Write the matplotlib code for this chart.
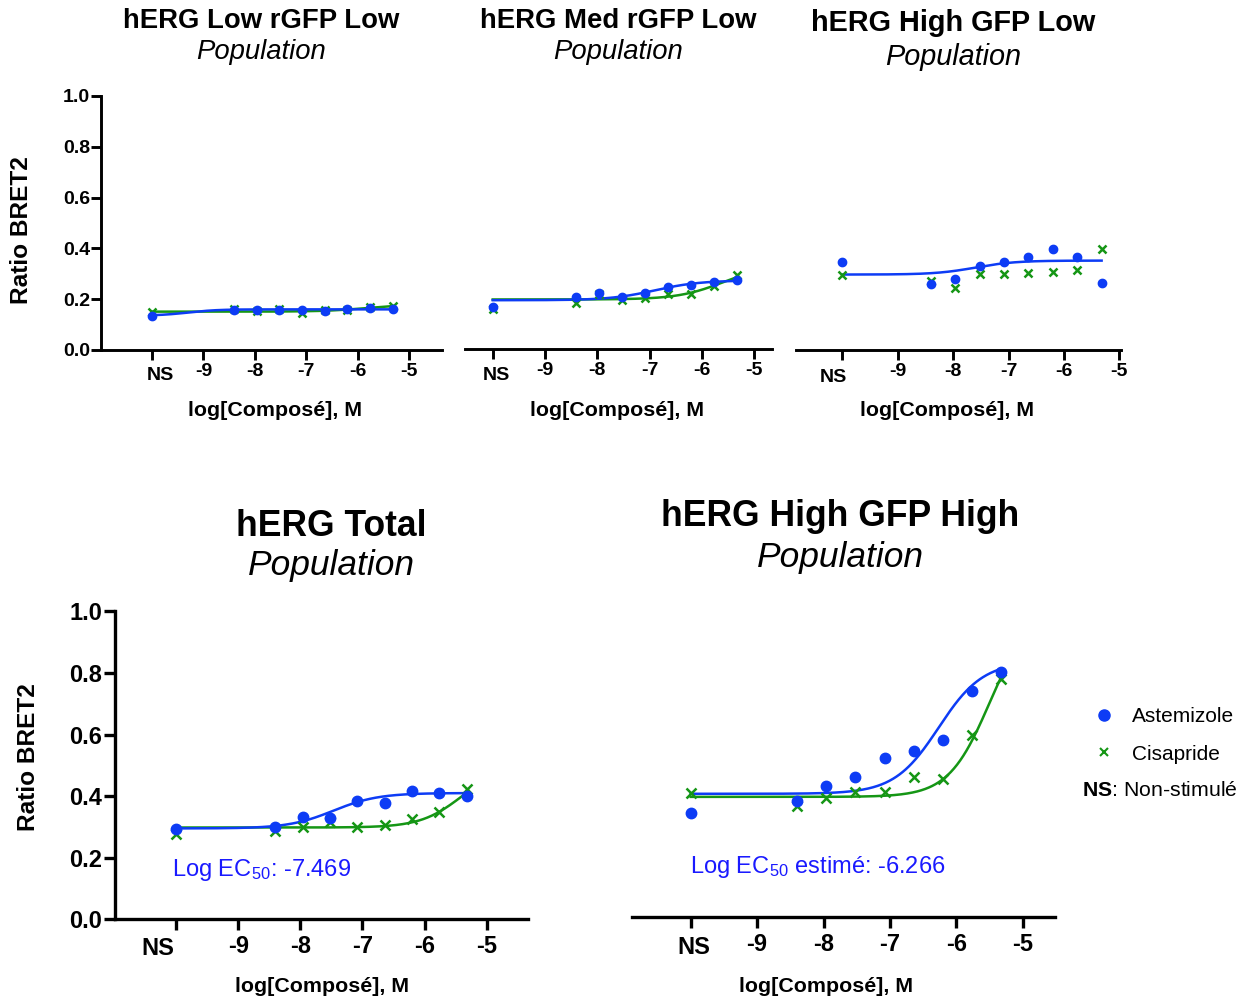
import numpy as np
import matplotlib
matplotlib.use('Agg')
import matplotlib.pyplot as plt
from matplotlib.lines import Line2D
from matplotlib.transforms import blended_transform_factory

plt.rcParams['font.family'] = ['Liberation Sans', 'DejaVu Sans']
plt.rcParams['mathtext.fontset'] = 'custom'
plt.rcParams['mathtext.rm'] = 'Liberation Sans'
plt.rcParams['mathtext.it'] = 'Liberation Sans:italic'
plt.rcParams['mathtext.bf'] = 'Liberation Sans:bold'
plt.rcParams['axes.unicode_minus'] = False

# ---------------- data ----------------
NS_POS = -10.0                      # position of the non-stimulated point
conc = [-8.4, -7.96, -7.52, -7.08, -6.64, -6.2, -5.76, -5.32]   # log[M]
xtick_vals = [-10, -9, -8, -7, -6, -5]
xtick_labels = ['', '-9', '-8', '-7', '-6', '-5']
ytick_vals = [0.0, 0.2, 0.4, 0.6, 0.8, 1.0]
ytick_labels = ['0.0', '0.2', '0.4', '0.6', '0.8', '1.0']

# first value = NS, then the 8 concentrations
low_low_ast = [0.135, 0.157, 0.157, 0.157, 0.157, 0.155, 0.160, 0.167, 0.160]
low_low_cis = [0.148, 0.160, 0.155, 0.162, 0.146, 0.157, 0.157, 0.170, 0.172]
med_low_ast = [0.165, 0.203, 0.222, 0.204, 0.222, 0.246, 0.252, 0.264, 0.270]
med_low_cis = [0.157, 0.183, 0.218, 0.194, 0.200, 0.216, 0.216, 0.249, 0.290]
high_low_ast = [0.345, 0.260, 0.281, 0.331, 0.348, 0.367, 0.398, 0.367, 0.265]
high_low_cis = [0.295, 0.273, 0.243, 0.298, 0.298, 0.302, 0.306, 0.315, 0.396]
total_ast = [0.293, 0.301, 0.333, 0.328, 0.385, 0.377, 0.417, 0.409, 0.400]
total_cis = [0.277, 0.288, 0.299, 0.315, 0.301, 0.306, 0.325, 0.349, 0.422]
hh_ast = [0.337, 0.378, 0.425, 0.456, 0.515, 0.540, 0.575, 0.735, 0.794]
hh_cis = [0.402, 0.360, 0.385, 0.407, 0.407, 0.456, 0.447, 0.591, 0.772]

# fitted dose-response parameters: (bottom, top, logEC50, hill)
fit_low_low_ast = (0.135, 0.160, -9.3, 1.5)
fit_low_low_cis = (0.151, 0.180, -5.8, 1.0)
fit_med_low_ast = (0.192, 0.270, -6.9, 1.0)
fit_med_low_cis = (0.195, 0.330, -5.6, 1.0)
fit_high_low_ast = (0.297, 0.352, -7.6, 1.2)
fit_total_ast = (0.295, 0.410, -7.469, 1.2)
fit_total_cis = (0.298, 0.500, -5.4, 1.3)
fit_hh_ast = (0.400, 0.830, -6.266, 1.3)
fit_hh_cis = (0.390, 1.000, -5.5, 1.4)

titles = ['hERG Low rGFP Low', 'hERG Med rGFP Low', 'hERG High GFP Low',
          'hERG Total', 'hERG High GFP High']
subtitle = 'Population'
xlabel = 'log[Composé], M'
ylabel = 'Ratio BRET2'
series_names = ['Astemizole', 'Cisapride']

BLUE = '#0d3cf5'
GREEN = '#159615'
TEXT_BLUE = '#1a1aff'

W, H = 1246, 999
fig = plt.figure(figsize=(W / 100, H / 100), dpi=100)


def logistic(x, p):
    bottom, top, logec, hill = p
    return bottom + (top - bottom) / (1.0 + 10 ** ((logec - x) * hill))


def rect(x0, x1, y0, y1):
    return [x0 / W, 1 - y0 / H, (x1 - x0) / W, (y0 - y1) / H]


def panel(r, xlim, ast, cis, fit_a, fit_c, big, show_y, ns_dx, ns_dy, lab_pad):
    ax = fig.add_axes(r)
    ax.set_xlim(*xlim)
    ax.set_ylim(0, 1.0)
    lw_ax = 2.4 if big else 2.1
    tfs = 17 if big else 14
    ms = 7.5 if big else 6.0
    for s in ['top', 'right']:
        ax.spines[s].set_visible(False)
    ax.spines['bottom'].set_linewidth(lw_ax)
    ax.spines['left'].set_linewidth(lw_ax)
    ax.patch.set_alpha(0)
    xs = [NS_POS] + conc
    xc = np.linspace(NS_POS, conc[-1], 400)
    if fit_c is not None:
        ax.plot(xc, logistic(xc, fit_c), color=GREEN, lw=1.8, zorder=2)
    if fit_a is not None:
        ax.plot(xc, logistic(xc, fit_a), color=BLUE, lw=1.8, zorder=3)
    ax.plot(xs, cis, ls='none', marker='x', color=GREEN, ms=ms, mew=1.8, zorder=4, clip_on=False)
    ax.plot(xs, ast, ls='none', marker='o', color=BLUE, ms=ms, mec=BLUE, zorder=5, clip_on=False)
    ax.set_xticks(xtick_vals)
    ax.set_xticklabels(xtick_labels, fontsize=tfs, fontweight='bold')
    ax.tick_params(axis='x', length=8 if big else 7, width=lw_ax, pad=lab_pad)
    if show_y:
        ax.set_yticks(ytick_vals)
        ax.set_yticklabels(ytick_labels, fontsize=tfs, fontweight='bold')
        ax.tick_params(axis='y', length=8 if big else 7, width=lw_ax, pad=1)
    else:
        ax.spines['left'].set_visible(False)
        ax.set_yticks([])
    tr = blended_transform_factory(ax.transData, ax.transAxes)
    ax.annotate('NS', xy=(NS_POS, 0), xycoords=tr, xytext=(ns_dx, -ns_dy),
                textcoords='offset pixels', ha='center', va='center',
                fontsize=tfs, fontweight='bold')
    return ax


ax1 = panel(rect(101, 442, 350, 96), (-10.994, -4.357), low_low_ast, low_low_cis,
            fit_low_low_ast, fit_low_low_cis, False, True, 8, 26, 2.5)
ax2 = panel(rect(465, 772, 349, 95), (-10.53, -4.66), med_low_ast, med_low_cis,
            fit_med_low_ast, fit_med_low_cis, False, False, 4, 26, 2.5)
ax3 = panel(rect(796, 1121, 350, 96), (-10.837, -4.97), high_low_ast, high_low_cis,
            fit_high_low_ast, None, False, False, -9, 27, 2.5)
ax4 = panel(rect(115, 528, 919.3, 611.3), (-10.985, -4.333), total_ast, total_cis,
            fit_total_ast, fit_total_cis, True, True, -18, 29, 3.5)
ax5 = panel(rect(632, 1055, 917, 609), (-10.884, -4.514), hh_ast, hh_cis,
            fit_hh_ast, fit_hh_cis, True, False, 3, 31, 3.5)


def ftxt(x, y, s, **kw):
    fig.text(x / W, 1 - y / H, s, **kw)


# titles
top_title = [(261, 21, 52, 19.8), (618, 21, 52, 19.8), (953, 23, 57, 20.8)]
for (cx, ty, py, fs), t in zip(top_title, titles[:3]):
    ftxt(cx, ty, t, ha='center', va='center', fontsize=fs, fontweight='bold')
    ftxt(cx, py, subtitle, ha='center', va='center', fontsize=fs, style='italic')
bot_title = [(331, 527, 566), (840, 517, 557)]
for (cx, ty, py), t in zip(bot_title, titles[3:]):
    ftxt(cx, ty, t, ha='center', va='center', fontsize=25.6, fontweight='bold')
    ftxt(cx, py, subtitle, ha='center', va='center', fontsize=25.5, style='italic')

# axis labels
for cx, cy in [(275, 411), (617, 410), (947, 411), (322, 987), (826, 987)]:
    ftxt(cx, cy, xlabel, ha='center', va='center', fontsize=15.4, fontweight='bold')
for cx, cy in [(22, 230), (29, 757)]:
    ftxt(cx, cy, ylabel, ha='center', va='center', fontsize=17.6, fontweight='bold',
         rotation=90)

# EC50 annotations
ftxt(172, 870, r'Log EC$_{50}$: -7.469', ha='left', va='center', fontsize=17,
     color=TEXT_BLUE)
ftxt(690, 867, r'Log EC$_{50}$ estimé: -6.266', ha='left', va='center', fontsize=17,
     color=TEXT_BLUE)

# legend
handles = [Line2D([], [], ls='none', marker='o', color=BLUE, ms=8),
           Line2D([], [], ls='none', marker='x', color=GREEN, ms=6, mew=1.5)]
fig.legend(handles, series_names, loc='upper left',
           bbox_to_anchor=(1094 / W, 1 - 707 / H), frameon=False, fontsize=15,
           handlelength=0.93, handletextpad=0.9, labelspacing=0.9, borderpad=0,
           borderaxespad=0)
ftxt(1082, 790, r'$\mathbf{NS}$: Non-stimulé', ha='left', va='center', fontsize=15.3)

fig.savefig('out.png', dpi=100)
